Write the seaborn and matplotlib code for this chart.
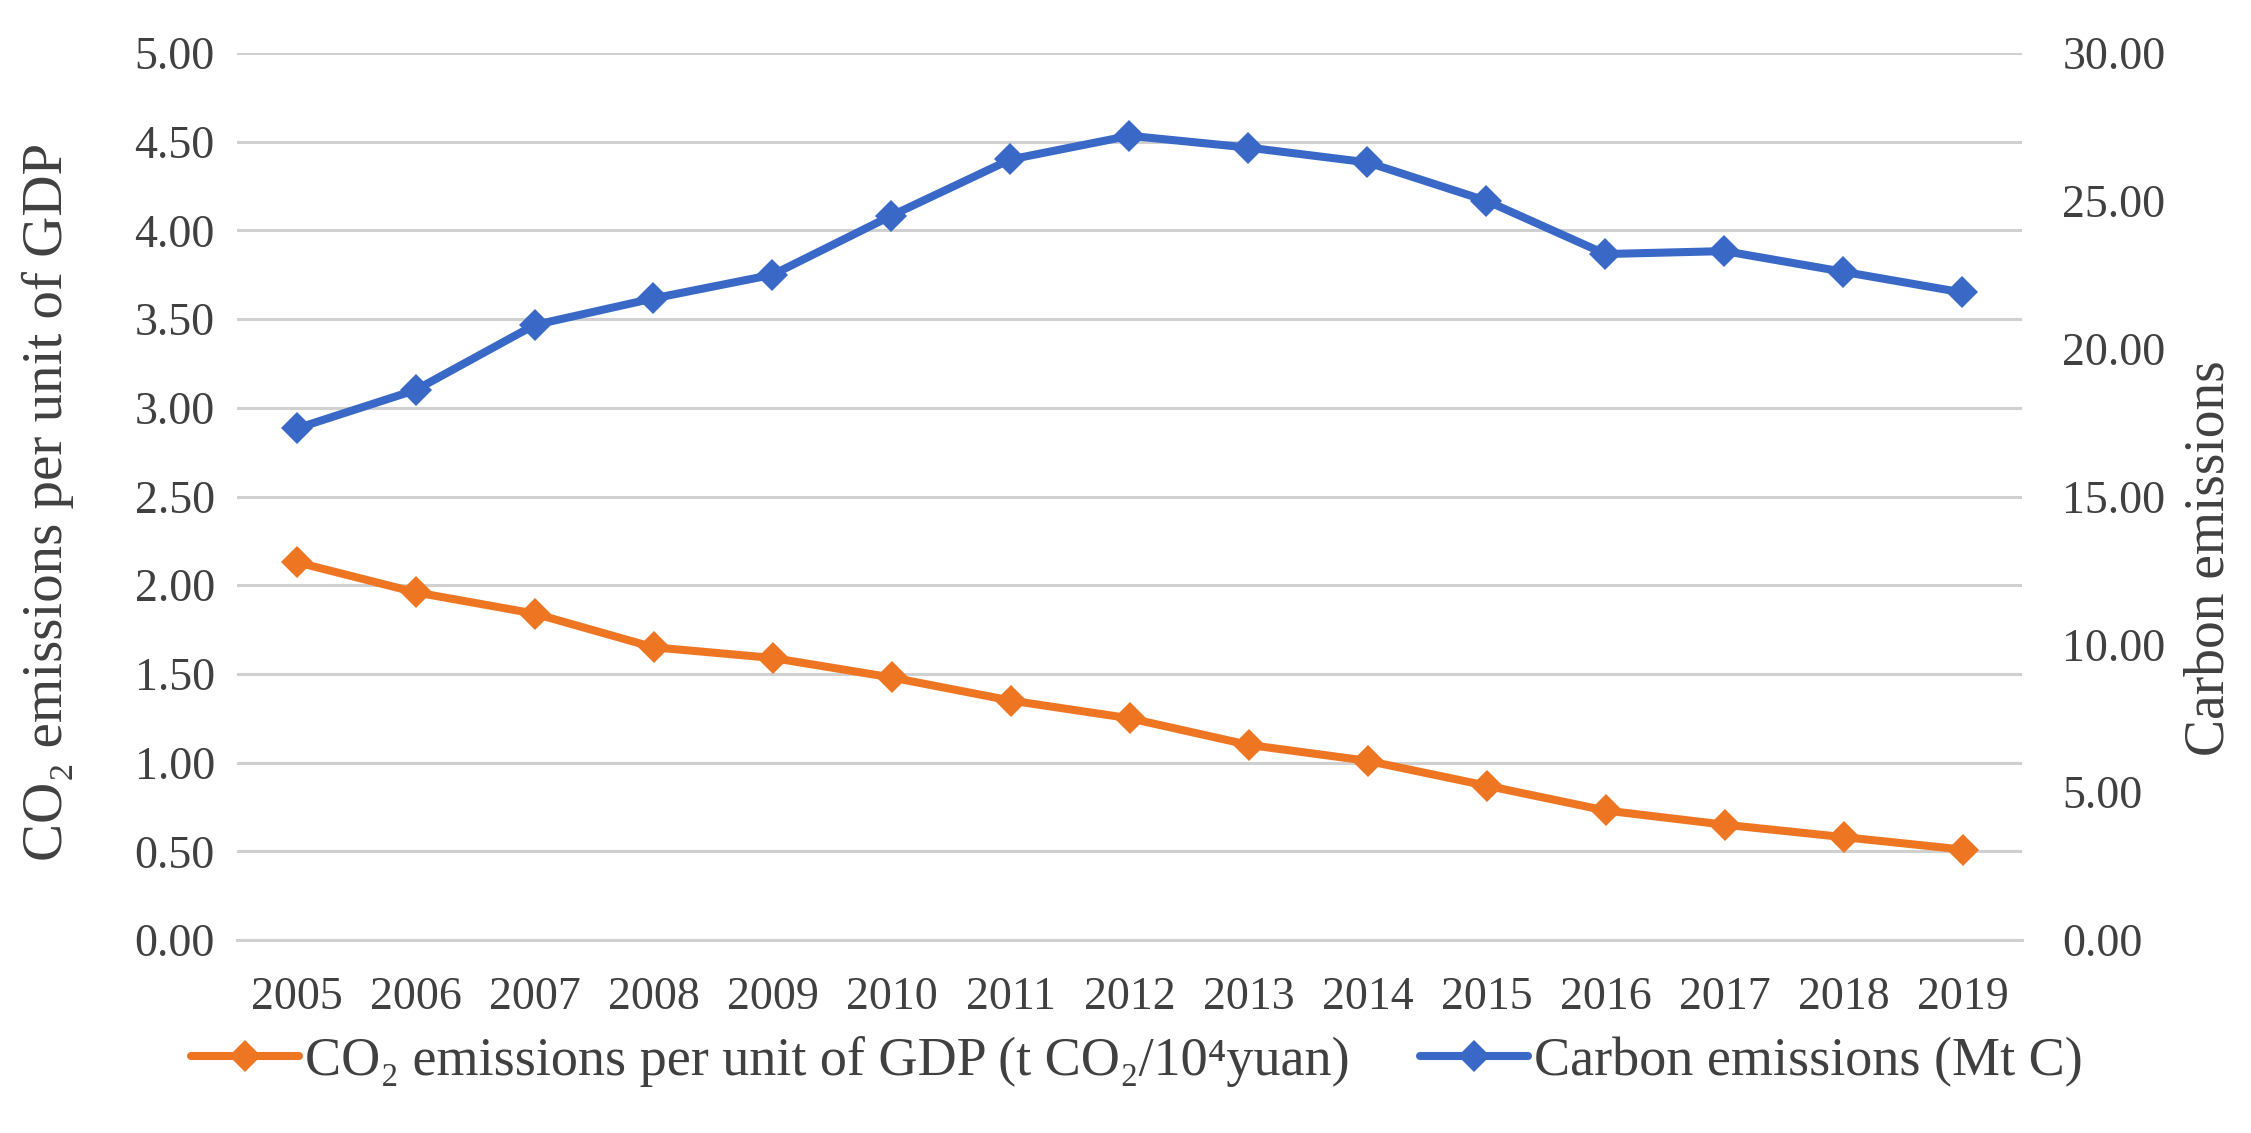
import numpy as np
import pandas as pd
import seaborn as sns
import matplotlib as mpl
import matplotlib.pyplot as plt
from matplotlib.lines import Line2D

# data
years = [2005, 2006, 2007, 2008, 2009, 2010, 2011, 2012, 2013, 2014, 2015, 2016, 2017, 2018, 2019]
intensity = [2.13, 1.96, 1.84, 1.65, 1.59, 1.48, 1.35, 1.25, 1.10, 1.01, 0.87, 0.73, 0.65, 0.58, 0.51]
carbon = [17.3, 18.6, 20.8, 21.7, 22.5, 24.5, 26.4, 27.2, 26.8, 26.3, 25.0, 23.2, 23.3, 22.6, 21.9]
leftTicks = [0, 0.5, 1, 1.5, 2, 2.5, 3, 3.5, 4, 4.5, 5]
rightTicks = [0, 5, 10, 15, 20, 25, 30]

name1 = 'CO\u2082 emissions per unit of GDP (t CO\u2082/10\u2074yuan)'
name2 = 'Carbon emissions (Mt C)'

orange = '#EE7623'
blue = '#3A68C6'
txtCol = '#404040'
gridCol = '#D0D0D0'
lw = 5.8
ms = 16.5

sns.set_style('white')
mpl.rcParams['font.family'] = ['Liberation Serif', 'DejaVu Serif']

df = pd.DataFrame({'pos': np.arange(len(years)), 'intensity': intensity, 'carbon': carbon})

fig = plt.figure(figsize=(22.51, 11.33), dpi=100)
ax = fig.add_axes([237 / 2251, 1 - 940 / 1133, 1785 / 2251, 887 / 1133])
ax2 = ax.twinx()

sns.lineplot(data=df, x='pos', y='intensity', ax=ax, color=orange, marker='D',
             markersize=ms, linewidth=lw, markeredgewidth=0, zorder=3)
sns.lineplot(data=df, x='pos', y='carbon', ax=ax2, color=blue, marker='D',
             markersize=ms, linewidth=lw, markeredgewidth=0, zorder=3)

ax.set_ylim(0, 5)
ax2.set_ylim(0, 30)
ax.set_xlim(-0.5, len(years) - 0.5)
ax.set_yticks(leftTicks)
ax.set_yticklabels([f'{v:.2f}' for v in leftTicks])
ax2.set_yticks(rightTicks)
ax2.set_yticklabels([f'{v:.2f}' for v in rightTicks])

# category axis: tick marks between categories, labels at centers
ax.set_xticks(np.arange(-0.5, len(years)), minor=False)
ax.set_xticklabels([])
ax.set_xticks(np.arange(len(years)), minor=True)
ax.set_xticklabels([str(y) for y in years], minor=True)
ax.tick_params(axis='x', which='major', length=11, width=2, color=gridCol, direction='out')
ax.tick_params(axis='x', which='minor', length=0, pad=26, labelsize=33, labelcolor=txtCol)

ax.yaxis.grid(True, color=gridCol, linewidth=2.2)
ax.tick_params(axis='y', length=0, pad=16, labelsize=33, labelcolor=txtCol)
ax2.tick_params(axis='y', length=0, pad=29, labelsize=33, labelcolor=txtCol)

for a in (ax, ax2):
    for s in ['top', 'left', 'right']:
        a.spines[s].set_visible(False)
    a.spines['bottom'].set_color(gridCol)
    a.spines['bottom'].set_linewidth(2.2)
ax2.spines['bottom'].set_visible(False)
ax.set_zorder(ax2.get_zorder() - 1)
ax.patch.set_visible(False)

ax.set_xlabel('')
ax.set_ylabel('CO\u2082 emissions per unit of GDP', fontsize=41, color=txtCol)
ax2.set_ylabel('Carbon emissions', fontsize=40, color=txtCol)
ax.yaxis.set_label_coords((48 - 237) / 1785, 0.494)
ax2.yaxis.set_label_coords((2210 - 237) / 1785, 0.43)
ax.yaxis.label.set_va('center')
ax2.yaxis.label.set_va('center')

handles = [Line2D([], [], color=orange, marker='D', markersize=ms, linewidth=lw, markeredgewidth=0),
           Line2D([], [], color=blue, marker='D', markersize=ms, linewidth=lw, markeredgewidth=0)]
fig.legend(handles, [name1, name2], loc='center', bbox_to_anchor=(0.505, 0.063), ncol=2,
           frameon=False, fontsize=39, handlelength=2.0, handletextpad=0.1, columnspacing=1.3,
           labelcolor=txtCol)

fig.savefig('out.png', dpi=100)
